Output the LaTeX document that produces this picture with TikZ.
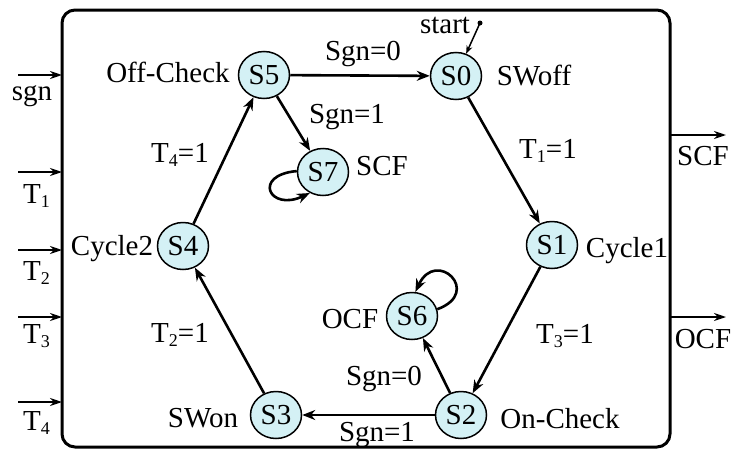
\documentclass[tikz,border=0pt]{standalone}
\usepackage{fontspec}
\setmainfont{Liberation Serif}
\usetikzlibrary{shapes.geometric,arrows.meta}
\definecolor{stfill}{RGB}{212,241,245}
\newcommand\subs[1]{\raisebox{-0.35ex}{\fontsize{18}{18}\selectfont #1}}
\begin{document}
\begin{tikzpicture}[x=1pt,y=-1pt,
  every node/.style={font=\fontsize{29}{29}\selectfont, inner sep=0pt},
  st/.style={ellipse, draw, line width=1.5pt, fill=stfill, minimum width=51pt, minimum height=47pt},
  arr/.style={line width=2.6pt, -{Stealth[length=13pt,width=10pt]}},
  io/.style={line width=2pt, -{Stealth[length=12pt,width=8pt]}},
  lbl/.style={anchor=base}]
\useasboundingbox (0,0) rectangle (736,450);
% outer box
\draw[line width=3pt, rounded corners=13pt] (62,10) rectangle (670,447);
% states
\node[st] (S0) at (456,76) {S0};
\node[st] (S1) at (552,245) {S1};
\node[st] (S2) at (461,415) {S2};
\node[st] (S3) at (276,415) {S3};
\node[st] (S4) at (183,246) {S4};
\node[st] (S5) at (264,75) {S5};
\node[st] (S6) at (412,316) {S6};
\node[st] (S7) at (323,172) {S7};
% state names
\node[lbl] (nS5) at (168,82) {Off-Check};
\node[lbl] (nS0) at (534,85) {SWoff};
\node[lbl] (nS1) at (627,257) {Cycle1};
\node[lbl] (nS2) at (560,428) {On-Check};
\node[lbl] (nS3) at (203,427) {SWon};
\node[lbl] (nS4) at (112,255) {Cycle2};
\node[lbl] (nS6) at (350,328) {OCF};
\node[lbl] (nS7) at (382,175) {SCF};
% start
\node[lbl] (start) at (445,33) {start};
\fill (480,23) circle (2.5pt);
\coordinate (sdot) at (480,23);
\draw[line width=1.5pt, -{Stealth[length=8pt,width=6pt]}] (sdot) -- (S0);
% transitions
\draw[arr] (S5) -- (S0);
\draw[arr] (S0) -- (S1);
\draw[arr] (S1) -- (S2);
\draw[arr] (S2) -- (S3);
\draw[arr] (S3) -- (S4);
\draw[arr] (S4) -- (S5);
\draw[arr] (S5) -- (S7);
\draw[arr] (S2) -- (S6);
\draw[arr] (S7.178) to[out=185, in=205, looseness=4.5] (S7.238);
\draw[arr] (S6.15) to[out=20, in=65, looseness=4.5] (S6.82);
% transition labels
\node[lbl] (l50) at (363,60) {Sgn=0};
\node[lbl] (l57) at (347,123) {Sgn=1};
\node[lbl] (l01) at (548,158) {T\subs{1}=1};
\node[lbl] (l12) at (565,343) {T\subs{3}=1};
\node[lbl] (l26) at (384,385) {Sgn=0};
\node[lbl] (l23) at (377,441) {Sgn=1};
\node[lbl] (l34) at (180,342) {T\subs{2}=1};
\node[lbl] (l45) at (180,162) {T\subs{4}=1};
% inputs
\coordinate (a1) at (18,75);  \coordinate (b1) at (62,75);
\coordinate (a2) at (18,172); \coordinate (b2) at (62,172);
\coordinate (a3) at (18,250); \coordinate (b3) at (62,250);
\coordinate (a4) at (18,317); \coordinate (b4) at (62,317);
\coordinate (a5) at (18,402); \coordinate (b5) at (62,402);
\draw[io] (a1) -- (b1);
\draw[io] (a2) -- (b2);
\draw[io] (a3) -- (b3);
\draw[io] (a4) -- (b4);
\draw[io] (a5) -- (b5);
\node[lbl] (isgn) at (32,100) {sgn};
\node[anchor=base west] (iT1) at (23,203) {T\subs{1}};
\node[anchor=base west] (iT2) at (23,280) {T\subs{2}};
\node[anchor=base west] (iT3) at (23,343) {T\subs{3}};
\node[anchor=base west] (iT4) at (23,430) {T\subs{4}};
% outputs
\coordinate (o1a) at (670,135); \coordinate (o1b) at (726,135);
\coordinate (o2a) at (670,317); \coordinate (o2b) at (726,317);
\draw[io] (o1a) -- (o1b);
\draw[io] (o2a) -- (o2b);
\node[lbl] (oSCF) at (703,165) {SCF};
\node[lbl] (oOCF) at (703,348) {OCF};
\end{tikzpicture}
\end{document}
